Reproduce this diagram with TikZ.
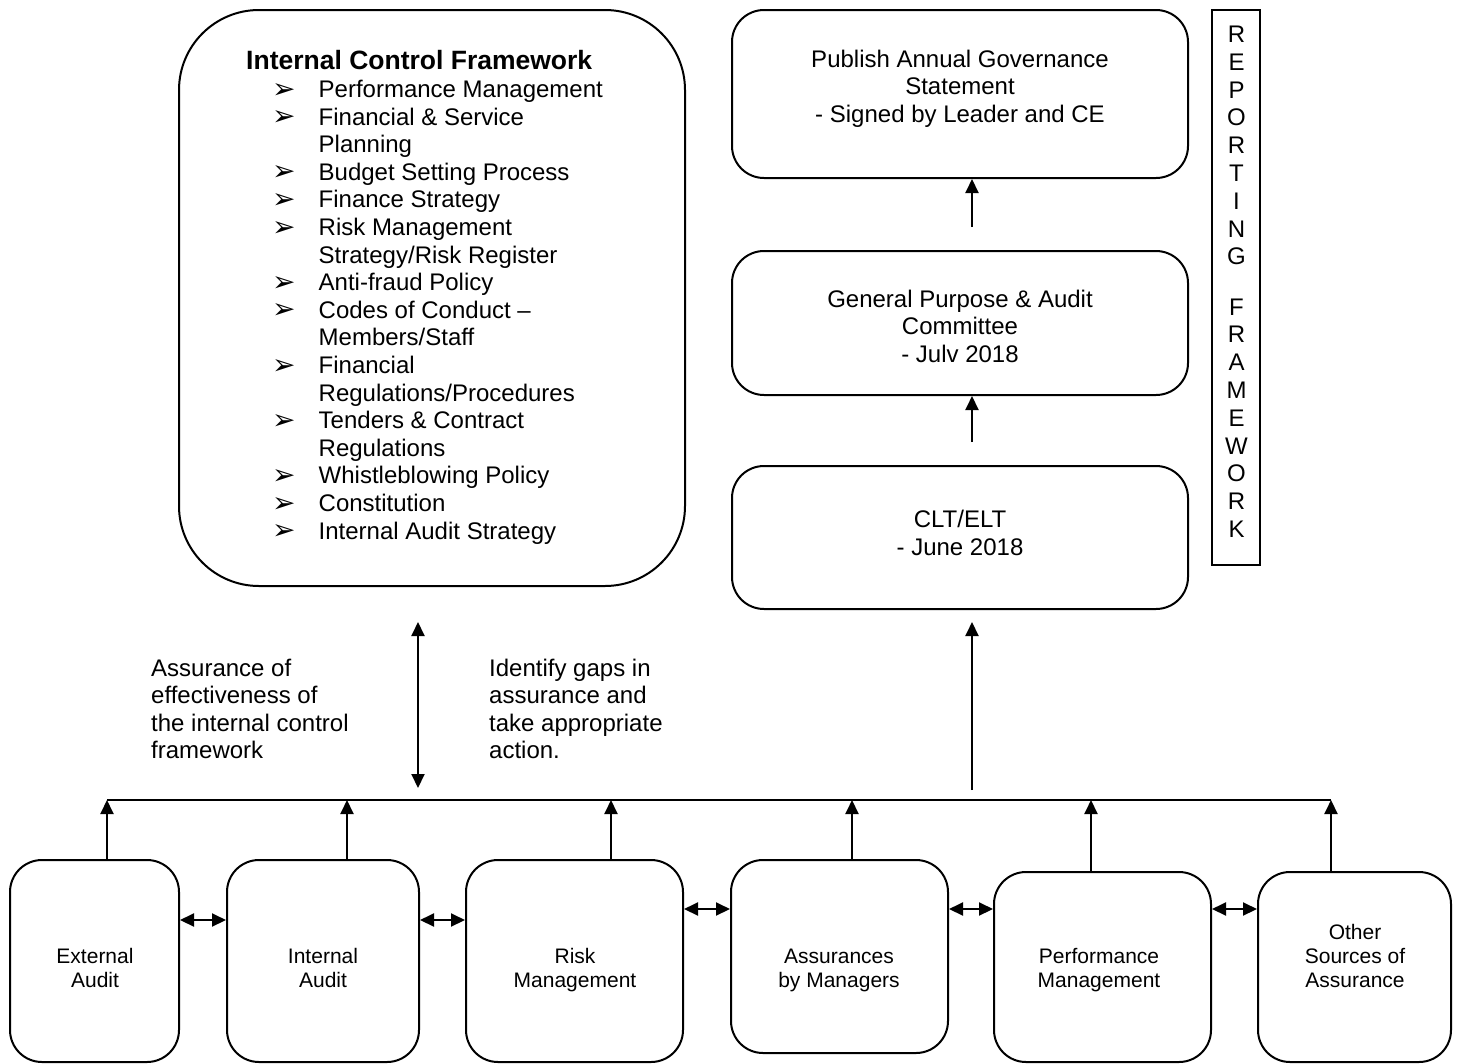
\documentclass[tikz,border=0pt]{standalone}
\usepackage{fontspec}
\setmainfont{Liberation Sans}
\newfontfamily\dejavu{DejaVu Sans}
\usetikzlibrary{arrows.meta}
\begin{document}
\begin{tikzpicture}[x=1pt,y=-1pt,
  box/.style={draw, line width=2pt, rounded corners=32pt, inner sep=0pt},
  arr/.style={line width=2pt, -{Triangle[length=14pt,width=13pt]}},
  biarr/.style={line width=2pt, {Triangle[length=14pt,width=13pt]}-{Triangle[length=14pt,width=13pt]}},
  big/.style={inner sep=0pt, anchor=base, font=\fontsize{24}{27.6}\selectfont},
  bigw/.style={inner sep=0pt, anchor=base west, font=\fontsize{24}{27.6}\selectfont},
  small/.style={inner sep=0pt, anchor=base, font=\fontsize{21}{24}\selectfont},
  bul/.style={inner sep=0pt, anchor=base west, font=\dejavu\fontsize{28}{30}\selectfont},
]
\useasboundingbox (0,0) rectangle (1459,1063);

% ---- boxes ----
\node[box, rounded corners=80pt, minimum width=506pt, minimum height=576pt] (icf) at (432,298) {};
\node[box, minimum width=456pt, minimum height=168pt] (pub) at (960,94) {};
\node[box, minimum width=456pt, minimum height=144pt] (gp) at (960,323) {};
\node[box, minimum width=456pt, minimum height=143pt] (clt) at (960,537.5) {};
\node[draw, line width=2pt, inner sep=0pt, minimum width=48pt, minimum height=555pt] (rep) at (1236,287.5) {};

\node[box, minimum width=169pt, minimum height=202pt] (ext) at (94.5,961) {};
\node[box, minimum width=192pt, minimum height=202pt] (int) at (323,961) {};
\node[box, minimum width=217pt, minimum height=202pt] (risk) at (574.5,961) {};
\node[box, minimum width=217pt, minimum height=193pt] (assur) at (839.5,956.5) {};
\node[box, minimum width=217pt, minimum height=190pt] (perf) at (1102.5,967) {};
\node[box, minimum width=193pt, minimum height=190pt] (other) at (1354.5,967) {};

% ---- internal control framework text ----
\node[inner sep=0pt, anchor=base west, font=\bfseries\fontsize{26.5}{30}\selectfont] (icftitle) at (246,69.5) {Internal Control Framework};
\foreach \k in {0,1,3,4,5,7,8,10,12,14,15,16}
  \node[bul] (bul\k) at (272,{98+27.6*\k}) {➢};
\foreach \k/\t in {0/Performance Management, 1/Financial \& Service, 2/Planning,
  3/Budget Setting Process, 4/Finance Strategy, 5/Risk Management,
  6/{Strategy/Risk Register}, 7/Anti-fraud Policy, 8/Codes of Conduct –,
  9/{Members/Staff}, 10/Financial, 11/{Regulations/Procedures},
  12/Tenders \& Contract, 13/Regulations, 14/Whistleblowing Policy,
  15/Constitution, 16/Internal Audit Strategy}
  \node[bigw] (item\k) at (318.5,{97.5+27.6*\k}) {\t};

% ---- right column texts ----
\node[big] (pub1) at (960,67) {Publish Annual Governance};
\node[big] (pub2) at (960,94.5) {Statement};
\node[big] (pub3) at (960,122) {- Signed by Leader and CE};
\node[big] (gp1) at (960,307) {General Purpose \& Audit};
\node[big] (gp2) at (960,334.5) {Committee};
\node[big] (gp3) at (960,362) {- Julv 2018};
\node[big] (clt1) at (960,527.5) {CLT/ELT};
\node[big] (clt2) at (960,555) {- June 2018};

% ---- reporting framework letters ----
\foreach \l [count=\i from 0] in {R,E,P,O,R,T,I,N,G}
  \node[big] (repa\i) at (1236.5,{42.5+27.8*\i}) {\l};
\foreach \l [count=\i from 0] in {F,R,A,M,E,W,O,R,K}
  \node[big] (repb\i) at (1236.5,{315+27.8*\i}) {\l};

% ---- annotations ----
\foreach \t [count=\i from 0] in {Assurance of, effectiveness of, the internal control, framework}
  \node[bigw] (annl\i) at (151,{676.5+27.4*\i}) {\t};
\foreach \t [count=\i from 0] in {Identify gaps in, assurance and, take appropriate, action.}
  \node[bigw] (annr\i) at (489,{676.5+27.4*\i}) {\t};

% ---- bottom box texts ----
\node[small] (ext1) at (95,963) {External};
\node[small] (ext2) at (95,987) {Audit};
\node[small] (int1) at (323,963) {Internal};
\node[small] (int2) at (323,987) {Audit};
\node[small] (risk1) at (575,963) {Risk};
\node[small] (risk2) at (575,987) {Management};
\node[small] (assur1) at (839,963) {Assurances};
\node[small] (assur2) at (839,987) {by Managers};
\node[small] (perf1) at (1099,963) {Performance};
\node[small] (perf2) at (1099,987) {Management};
\node[small] (oth1) at (1355,939) {Other};
\node[small] (oth2) at (1355,963) {Sources of};
\node[small] (oth3) at (1355,987) {Assurance};

% ---- connectors ----
\coordinate (a1) at (972,227);
\coordinate (a2) at (972,442);
\coordinate (a3) at (972,790);
\draw[arr] (a1) -- (a1 |- pub.south);
\draw[arr] (a2) -- (a2 |- gp.south);
\draw[arr, shorten >=12pt] (a3) -- (a3 |- clt.south);

\coordinate (b1) at (418,788);
\draw[biarr, shorten >=35pt] (b1) -- (b1 |- icf.south);

\coordinate (busL) at (107,800);
\coordinate (u2) at (347,800);
\coordinate (u3) at (611,800);
\coordinate (u4) at (852,800);
\coordinate (u5) at (1091,800);
\coordinate (busR) at (1331,800);
\draw[line width=2pt] (busL) -- (busR);
\draw[arr] (ext.north -| busL) -- (busL);
\draw[arr] (int.north -| u2) -- (u2);
\draw[arr] (risk.north -| u3) -- (u3);
\draw[arr] (assur.north -| u4) -- (u4);
\draw[arr] (perf.north -| u5) -- (u5);
\draw[arr] (other.north -| busR) -- (busR);

\coordinate (h1) at (0,920);
\coordinate (h2) at (0,909);
\draw[biarr] (ext.east |- h1) -- (int.west |- h1);
\draw[biarr] (int.east |- h1) -- (risk.west |- h1);
\draw[biarr] (risk.east |- h2) -- (assur.west |- h2);
\draw[biarr] (assur.east |- h2) -- (perf.west |- h2);
\draw[biarr] (perf.east |- h2) -- (other.west |- h2);
\end{tikzpicture}
\end{document}
